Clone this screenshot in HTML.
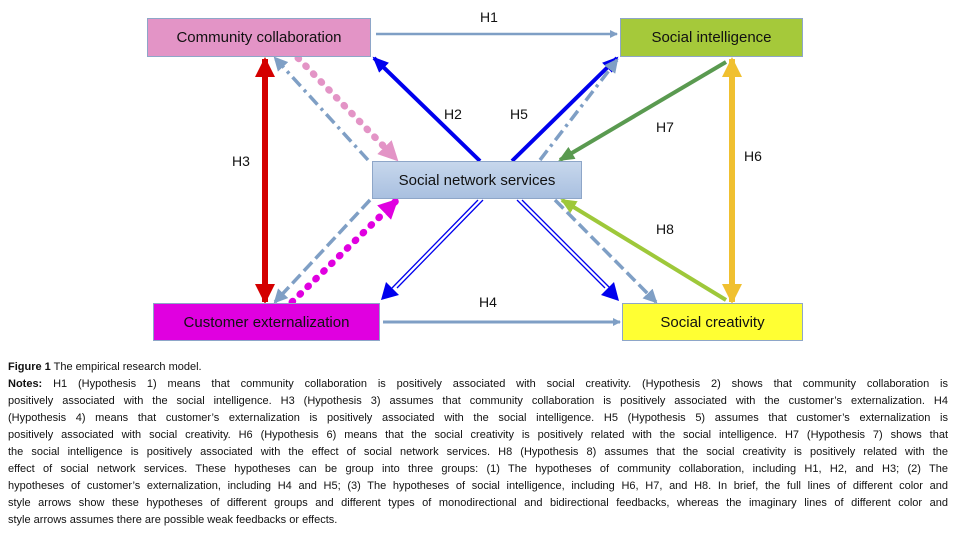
<!DOCTYPE html>
<html><head><meta charset="utf-8"><style>
body{margin:0;width:960px;height:535px;background:#fff;position:relative;overflow:hidden;font-family:"Liberation Sans",sans-serif}
.box{position:absolute;box-sizing:border-box;border:1.5px solid #8ea6c8;font-size:15px;color:#111;display:flex;align-items:center;justify-content:center}
.lab{position:absolute;font-size:14px;color:#111}
.cap{position:absolute;left:8px;width:940px;font-size:11px;color:#111;line-height:17px}
.cap div{text-align:justify;text-align-last:justify;white-space:nowrap;height:17px}
.cap div.l{text-align-last:left}
</style></head><body>
<svg width="960" height="350" style="position:absolute;left:0;top:0">
<defs>
<marker id="ag" markerWidth="8" markerHeight="8" refX="7" refY="4" orient="auto" markerUnits="userSpaceOnUse"><path d="M0,0L8,4L0,8z" fill="#7f9fc5"/></marker>
<marker id="ag2" markerWidth="14" markerHeight="14" refX="12" refY="7" orient="auto" markerUnits="userSpaceOnUse"><path d="M0,0L14,7L0,14z" fill="#7f9fc5"/></marker>
<marker id="ab" markerWidth="16" markerHeight="14" refX="14" refY="7" orient="auto" markerUnits="userSpaceOnUse"><path d="M0,0L16,7L0,14z" fill="#0000ee"/></marker>
<marker id="ar" markerWidth="20" markerHeight="20" refX="18" refY="10" orient="auto" markerUnits="userSpaceOnUse"><path d="M0,0L20,10L0,20z" fill="#d40000"/></marker>
<marker id="ay" markerWidth="20" markerHeight="20" refX="18" refY="10" orient="auto" markerUnits="userSpaceOnUse"><path d="M0,0L20,10L0,20z" fill="#f0c030"/></marker>
<marker id="ap" markerWidth="20" markerHeight="20" refX="18" refY="10" orient="auto" markerUnits="userSpaceOnUse"><path d="M0,0L20,10L0,20z" fill="#e394c6"/></marker>
<marker id="am" markerWidth="20" markerHeight="20" refX="18" refY="10" orient="auto" markerUnits="userSpaceOnUse"><path d="M0,0L20,10L0,20z" fill="#e000e0"/></marker>
<marker id="agr" markerWidth="16" markerHeight="14" refX="14" refY="7" orient="auto" markerUnits="userSpaceOnUse"><path d="M0,0L16,7L0,14z" fill="#5a9a50"/></marker>
<marker id="alg" markerWidth="16" markerHeight="14" refX="14" refY="7" orient="auto" markerUnits="userSpaceOnUse"><path d="M0,0L16,7L0,14z" fill="#9ec83a"/></marker>
</defs>
<line x1="376" y1="34" x2="617" y2="34" stroke="#7f9fc5" stroke-width="2.5" marker-end="url(#ag)"/>
<line x1="383" y1="322" x2="620" y2="322" stroke="#7f9fc5" stroke-width="3" marker-end="url(#ag)"/>
<line x1="265" y1="75" x2="265" y2="288" stroke="#d40000" stroke-width="6"/>
<line x1="265" y1="90" x2="265" y2="59" stroke="#d40000" stroke-width="6" marker-end="url(#ar)"/>
<line x1="265" y1="270" x2="265" y2="302" stroke="#d40000" stroke-width="6" marker-end="url(#ar)"/>
<line x1="732" y1="75" x2="732" y2="288" stroke="#f0c030" stroke-width="6"/>
<line x1="732" y1="90" x2="732" y2="59" stroke="#f0c030" stroke-width="6" marker-end="url(#ay)"/>
<line x1="732" y1="270" x2="732" y2="302" stroke="#f0c030" stroke-width="6" marker-end="url(#ay)"/>
<line x1="480" y1="161" x2="374" y2="58" stroke="#0000ee" stroke-width="4" marker-end="url(#ab)"/>
<line x1="512" y1="161" x2="617" y2="58" stroke="#0000ee" stroke-width="4" marker-end="url(#ab)"/>
<line x1="368" y1="160" x2="275" y2="58" stroke="#7f9fc5" stroke-width="3.5" stroke-dasharray="12,5,3,5" marker-end="url(#ag2)"/>
<line x1="540" y1="160" x2="617" y2="60" stroke="#7f9fc5" stroke-width="3.5" stroke-dasharray="12,5,3,5" marker-end="url(#ag2)"/>
<line x1="298" y1="58" x2="397" y2="160" stroke="#e394c6" stroke-width="7" stroke-dasharray="1,10" stroke-linecap="round" marker-end="url(#ap)"/>
<line x1="292" y1="302" x2="397" y2="200" stroke="#e000e0" stroke-width="7" stroke-dasharray="1,10" stroke-linecap="round" marker-end="url(#am)"/>
<line x1="370" y1="200" x2="275" y2="302" stroke="#7f9fc5" stroke-width="3.5" stroke-dasharray="12,5" marker-end="url(#ag2)"/>
<line x1="555" y1="200" x2="656" y2="302" stroke="#7f9fc5" stroke-width="3.5" stroke-dasharray="12,5" marker-end="url(#ag2)"/>
<g stroke="#0000ee" stroke-width="1.3">
<line x1="478" y1="200" x2="392" y2="288"/><line x1="483" y1="200" x2="397" y2="288"/>
<line x1="517" y1="200" x2="605" y2="288"/><line x1="522" y1="200" x2="610" y2="288"/>
</g>
<path d="M381,300 L386,282 L399,295 Z" fill="#0000ee"/>
<path d="M619,301 L601,295 L614,282 Z" fill="#0000ee"/>
<line x1="726" y1="62" x2="560" y2="160" stroke="#5a9a50" stroke-width="4" marker-end="url(#agr)"/>
<line x1="726" y1="300" x2="562" y2="200" stroke="#9ec83a" stroke-width="4" marker-end="url(#alg)"/>
</svg>
<div class="box" style="left:147px;top:18px;width:224px;height:39px;background:#e394c6">Community collaboration</div>
<div class="box" style="left:620px;top:18px;width:183px;height:39px;background:#a5c93a">Social intelligence</div>
<div class="box" style="left:372px;top:161px;width:210px;height:38px;background:linear-gradient(#c7d7ec,#a9c0e0)">Social network services</div>
<div class="box" style="left:153px;top:303px;width:227px;height:38px;background:#e000e0">Customer externalization</div>
<div class="box" style="left:622px;top:303px;width:181px;height:38px;background:#ffff33">Social creativity</div>
<div class="lab" style="left:480px;top:9px">H1</div>
<div class="lab" style="left:444px;top:106px">H2</div>
<div class="lab" style="left:510px;top:106px">H5</div>
<div class="lab" style="left:232px;top:153px">H3</div>
<div class="lab" style="left:656px;top:119px">H7</div>
<div class="lab" style="left:744px;top:148px">H6</div>
<div class="lab" style="left:656px;top:221px">H8</div>
<div class="lab" style="left:479px;top:294px">H4</div>
<div class="cap" style="top:359px">
<div class="l"><b>Figure 1</b> The empirical research model.</div>
<div><b>Notes:</b> H1 (Hypothesis 1) means that community collaboration is positively associated with social creativity. (Hypothesis 2) shows that community collaboration is</div>
<div>positively associated with the social intelligence. H3 (Hypothesis 3) assumes that community collaboration is positively associated with the customer’s externalization. H4</div>
<div>(Hypothesis 4) means that customer’s externalization is positively associated with the social intelligence. H5 (Hypothesis 5) assumes that customer’s externalization is</div>
<div>positively associated with social creativity. H6 (Hypothesis 6) means that the social creativity is positively related with the social intelligence. H7 (Hypothesis 7) shows that</div>
<div>the social intelligence is positively associated with the effect of social network services. H8 (Hypothesis 8) assumes that the social creativity is positively related with the</div>
<div>effect of social network services. These hypotheses can be group into three groups: (1) The hypotheses of community collaboration, including H1, H2, and H3; (2) The</div>
<div>hypotheses of customer’s externalization, including H4 and H5; (3) The hypotheses of social intelligence, including H6, H7, and H8. In brief, the full lines of different color and</div>
<div>style arrows show these hypotheses of different groups and different types of monodirectional and bidirectional feedbacks, whereas the imaginary lines of different color and</div>
<div class="l">style arrows assumes there are possible weak feedbacks or effects.</div>
</div>
</body></html>
